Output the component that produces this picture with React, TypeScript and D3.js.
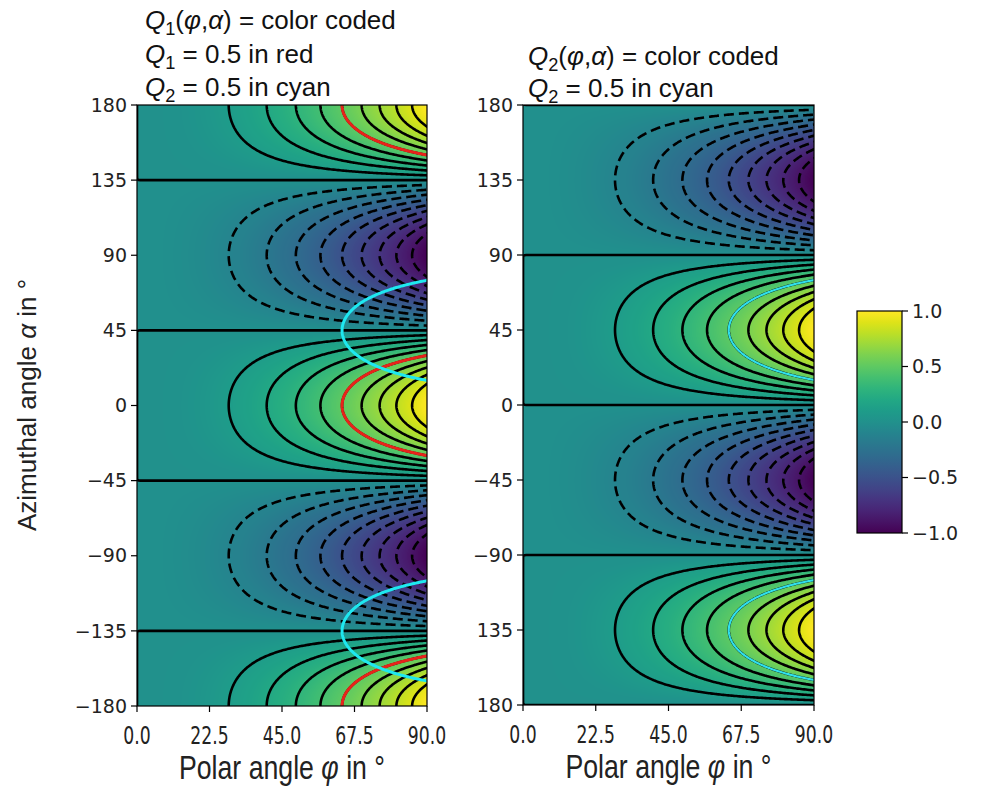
import React, { useMemo } from 'react';
import * as d3 from 'd3';

// ---- data ----
const phiTicks = [0, 22.5, 45, 67.5, 90];
const phiTickLabels = ['0.0', '22.5', '45.0', '67.5', '90.0'];
const alphaTicks = [180, 135, 90, 45, 0, -45, -90, -135, -180];
const alphaLabelsLeft = ['180', '135', '90', '45', '0', '−45', '−90', '−135', '−180'];
const alphaLabelsRight = ['180', '135', '90', '45', '0', '−45', '−90', '135', '180'];
const contourLevels = [-0.9, -0.8, -0.7, -0.6, -0.5, -0.4, -0.3, -0.2, -0.1, 0, 0.1, 0.2, 0.3, 0.4, 0.5, 0.6, 0.7, 0.8, 0.9];
const highlightLevel = 0.5;
const cbTicks = [1, 0.5, 0, -0.5, -1];
const cbLabels = ['1.0', '0.5', '0.0', '−0.5', '−1.0'];

// field definitions: Q1 = (phi/90)^2 cos 2a, Q2 = (phi/90)^2 sin 2a
const rad = Math.PI / 180;
const q1 = (phi: number, a: number) => (phi / 90) ** 2 * Math.cos(2 * a * rad);
const q2 = (phi: number, a: number) => (phi / 90) ** 2 * Math.sin(2 * a * rad);

// grid (extended past the axes, clipped later)
const G = { p0: -3, dp: 0.5, np: 193, a0: -195, da: 0.5, na: 781 };

const color = d3.scaleSequential(d3.interpolateViridis).domain([-1, 1]);
const FONT_TICK = "'DejaVu Sans', sans-serif";
const FONT_TXT = "'Liberation Sans', Arial, sans-serif";

function gridValues(f: (p: number, a: number) => number) {
  const v = new Float64Array(G.np * G.na);
  for (let j = 0; j < G.na; j++) {
    const a = G.a0 + j * G.da;
    for (let i = 0; i < G.np; i++) v[j * G.np + i] = f(G.p0 + i * G.dp, a);
  }
  return v;
}

function fieldImage(f: (p: number, a: number) => number, x: any, y: any) {
  const [px0, px1] = x.range();
  const [py0, py1] = y.range();
  const w = Math.round(px1 - px0), h = Math.round(py1 - py0);
  const c = document.createElement('canvas');
  c.width = w; c.height = h;
  const ctx = c.getContext('2d')!;
  const img = ctx.createImageData(w, h);
  for (let r = 0; r < h; r++) {
    const a = y.invert(py0 + r + 0.5);
    for (let k = 0; k < w; k++) {
      const p = x.invert(px0 + k + 0.5);
      const col = d3.rgb(color(f(p, a)));
      const o = (r * w + k) * 4;
      img.data[o] = col.r; img.data[o + 1] = col.g; img.data[o + 2] = col.b; img.data[o + 3] = 255;
    }
  }
  ctx.putImageData(img, 0, 0);
  return c.toDataURL();
}

function Panel(props: any) {
  const { id, x0, x1, y0, y1, f, highlights, yLabels } = props;
  const x = d3.scaleLinear().domain([0, 90]).range([x0, x1]);
  const y = d3.scaleLinear().domain([180, -180]).range([y0, y1]);
  const { href, lines, hl } = useMemo(() => {
    const vals = gridValues(f);
    const proj = d3.geoTransform({
      point(px: number, py: number) {
        (this as any).stream.point(x(G.p0 + (px - 0.5) * G.dp), y(G.a0 + (py - 0.5) * G.da));
      },
    });
    const path = d3.geoPath(proj);
    const gen = d3.contours().size([G.np, G.na]);
    const th = contourLevels.map((l) => (l === 0 ? 1e-7 : l));
    const cs = gen.thresholds(th)(Array.from(vals));
    const lines = cs.map((c: any, i: number) => ({ level: contourLevels[i], d: path(c) }));
    const hl = highlights.map((h: any) => {
      const hv = gridValues(h.f);
      const c = d3.contours().size([G.np, G.na]).thresholds([h.level])(Array.from(hv))[0];
      return { d: path(c), color: h.color, width: h.width };
    });
    return { href: fieldImage(f, x, y), lines, hl };
  }, []);
  return (
    <g>
      <defs>
        <clipPath id={id}>
          <rect x={x0} y={y0} width={x1 - x0} height={y1 - y0} />
        </clipPath>
      </defs>
      <image href={href} x={x0} y={y0} width={x1 - x0} height={y1 - y0} preserveAspectRatio="none" />
      <g clipPath={`url(#${id})`} fill="none">
        {lines.map((l: any, i: number) => (
          <path key={i} d={l.d} stroke="#000" strokeWidth={2.6}
            strokeDasharray={l.level < 0 ? '10,5' : undefined} />
        ))}
        {hl.map((h: any, i: number) => (
          <path key={'h' + i} d={h.d} stroke={h.color} strokeWidth={h.width} />
        ))}
      </g>
      <rect x={x0} y={y0} width={x1 - x0} height={y1 - y0} fill="none" stroke="#000" strokeWidth={1.2} />
      {alphaTicks.map((t, i) => (
        <g key={'y' + i}>
          <line x1={x0 - 6} x2={x0} y1={y(t)} y2={y(t)} stroke="#000" strokeWidth={1.2} />
          <text x={x0 - 10} y={y(t)} dy="0.35em" textAnchor="end" fontFamily={FONT_TICK} fontSize={19} fill="#222">
            {yLabels[i]}
          </text>
        </g>
      ))}
      {phiTicks.map((t, i) => (
        <g key={'x' + i}>
          <line x1={x(t)} x2={x(t)} y1={y1} y2={y1 + 6} stroke="#000" strokeWidth={1.2} />
          <text transform={`translate(${x(t)},${y1 + 38}) scale(0.82,1.2)`} textAnchor="middle"
            fontFamily={FONT_TICK} fontSize={21} fill="#222">
            {phiTickLabels[i]}
          </text>
        </g>
      ))}
      <text transform={`translate(${(x0 + x1) / 2},${y1 + 73}) scale(0.92,1.12)`} textAnchor="middle"
        fontFamily={FONT_TXT} fontSize={29} fill="#222">
        Polar angle <tspan fontStyle="italic">φ</tspan> in °
      </text>
    </g>
  );
}

function Colorbar() {
  const x0 = 857, x1 = 902, y0 = 311, y1 = 533;
  const y = d3.scaleLinear().domain([1, -1]).range([y0, y1]);
  const stops = d3.range(0, 1.0001, 0.05);
  return (
    <g>
      <defs>
        <linearGradient id="cbgrad" x1="0" y1="1" x2="0" y2="0">
          {stops.map((s) => (
            <stop key={s} offset={s} stopColor={color(-1 + 2 * s)} />
          ))}
        </linearGradient>
      </defs>
      <rect x={x0} y={y0} width={x1 - x0} height={y1 - y0} fill="url(#cbgrad)" stroke="#000" strokeWidth={1.2} />
      {cbTicks.map((t, i) => (
        <g key={i}>
          <line x1={x1} x2={x1 + 6} y1={y(t)} y2={y(t)} stroke="#000" strokeWidth={1.2} />
          <text x={x1 + 10} y={y(t)} dy="0.35em" fontFamily={FONT_TICK} fontSize={19} fill="#222">
            {cbLabels[i]}
          </text>
        </g>
      ))}
    </g>
  );
}

function QText({ x, y, sub, rest, fs = 26 }: any) {
  return (
    <text x={x} y={y} fontFamily={FONT_TXT} fontSize={fs} fill="#111">
      <tspan fontStyle="italic">Q</tspan>
      <tspan dy={6} fontSize={fs * 0.7}>{sub}</tspan>
      <tspan dy={-6}>{rest}</tspan>
    </text>
  );
}

export default function App() {
  return (
    <svg width={989} height={786} style={{ position: 'absolute', left: 0, top: 0, background: '#fff' }}>
      <rect width={989} height={786} fill="#fff" />
      <QText x={145} y={29} sub="1" rest={<>(<tspan fontStyle="italic">φ</tspan>,<tspan fontStyle="italic">α</tspan>) = color coded</>} />
      <QText x={145} y={63} sub="1" rest=" = 0.5 in red" />
      <QText x={145} y={96} sub="2" rest=" = 0.5 in cyan" />
      <QText x={528} y={65} sub="2" rest={<>(<tspan fontStyle="italic">φ</tspan>,<tspan fontStyle="italic">α</tspan>) = color coded</>} />
      <QText x={528} y={97} sub="2" rest=" = 0.5 in cyan" />
      <Panel id="clipL" x0={137} x1={427} y0={105} y1={706} f={q1} yLabels={alphaLabelsLeft}
        highlights={[
          { f: q1, level: highlightLevel, color: '#e8231a', width: 3 },
          { f: q2, level: highlightLevel, color: '#1ee8f0', width: 3 },
        ]} />
      <Panel id="clipR" x0={523} x1={814} y0={105} y1={705} f={q2} yLabels={alphaLabelsRight}
        highlights={[{ f: q2, level: highlightLevel, color: '#30e0ec', width: 2.2 }]} />
      <Colorbar />
      <text transform="translate(36,405) rotate(-90)" textAnchor="middle" fontFamily={FONT_TXT} fontSize={26} fill="#222">
        Azimuthal angle <tspan fontStyle="italic">α</tspan> in °
      </text>
    </svg>
  );
}
